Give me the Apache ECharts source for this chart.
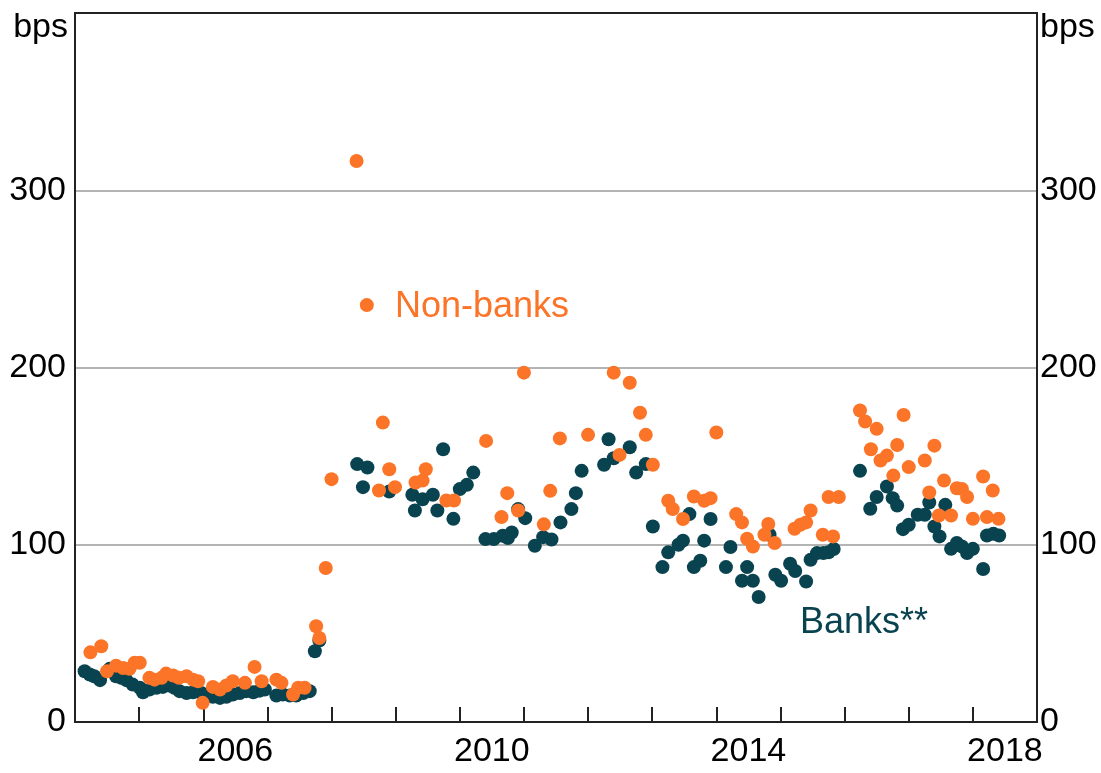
<!DOCTYPE html>
<html>
<head>
<meta charset="utf-8">
<script src="https://cdn.jsdelivr.net/npm/echarts@6/dist/echarts.min.js"></script>
<style>
  html, body { margin: 0; padding: 0; background: #fff; }
  #chart { width: 1101px; height: 773px; }
</style>
</head>
<body>
<div id="chart"></div>
<script>
// 读图得到的数据 (年份小数, bps)
var bankDates = [
  2004.15, 2004.23, 2004.30, 2004.39, 2004.54, 2004.64, 2004.72, 2004.80, 2004.90,
  2005.01, 2005.06, 2005.16, 2005.27, 2005.37, 2005.47, 2005.55, 2005.63, 2005.74, 2005.84, 2005.97,
  2006.07, 2006.15, 2006.26, 2006.36, 2006.46, 2006.57, 2006.67, 2006.78, 2006.88, 2006.96,
  2007.14, 2007.24, 2007.35, 2007.45, 2007.56, 2007.66, 2007.74, 2007.81,
  2008.40, 2008.49, 2008.56, 2008.90,
  2009.26, 2009.30, 2009.42, 2009.58, 2009.65, 2009.74, 2009.90,
  2010.00, 2010.11, 2010.21, 2010.40, 2010.53, 2010.67, 2010.75, 2010.81, 2010.91,
  2011.02, 2011.17, 2011.30, 2011.43, 2011.57, 2011.74, 2011.81, 2011.90,
  2012.25, 2012.32, 2012.40, 2012.65, 2012.75, 2012.90,
  2013.01, 2013.16, 2013.25, 2013.41, 2013.48, 2013.58, 2013.65, 2013.75, 2013.81, 2013.91,
  2014.15, 2014.22, 2014.40, 2014.48, 2014.57, 2014.66, 2014.83, 2014.92,
  2015.01, 2015.15, 2015.23, 2015.40, 2015.47, 2015.57, 2015.67, 2015.75, 2015.83,
  2016.24, 2016.40, 2016.50, 2016.66, 2016.75, 2016.82, 2016.91,
  2017.00, 2017.14, 2017.25, 2017.32, 2017.40, 2017.48, 2017.57, 2017.66, 2017.75, 2017.83, 2017.91,
  2018.00, 2018.16, 2018.22, 2018.32, 2018.41
];
var bankValues = [
  28.6, 26.8, 25.8, 23.6, 30.0, 25.8, 24.9, 23.6, 21.1,
  19.3, 16.8, 18.3, 19.3, 19.8, 20.6, 19.3, 17.4, 16.4, 16.8, 16.4,
  14.9, 14.2, 13.6, 14.2, 15.5, 16.4, 17.4, 16.8, 17.7, 18.3,
  14.9, 15.5, 14.9, 14.9, 16.4, 17.4, 39.9, 46.0,
  145.5, 132.5, 143.6, 130.0,
  128.2, 119.3, 125.7, 128.2, 119.3, 153.9, 114.6,
  131.4, 133.8, 140.7, 103.2, 103.2, 105.1, 103.8, 106.9, 120.1,
  115.0, 99.4, 104.3, 103.0, 112.6, 120.1, 129.1, 141.7,
  145.1, 159.5, 148.8, 155.0, 140.7, 145.5,
  110.3, 87.4, 95.7, 100.0, 102.3, 117.3, 87.4, 91.0, 102.3, 114.5,
  87.4, 98.7, 79.7, 87.4, 79.7, 70.5, 105.6, 83.1,
  79.7, 89.3, 85.2, 79.3, 91.5, 95.3, 95.3, 95.7, 97.6,
  141.7, 120.3, 126.9, 132.9, 126.3, 122.1, 108.8,
  111.3, 116.9, 116.9, 123.8, 110.3, 104.7, 122.5, 97.7, 101.0, 99.0, 95.3,
  97.7, 86.3, 105.2, 106.2, 105.2
];

var nonBankDates = [
  2004.24, 2004.41, 2004.50, 2004.64, 2004.75, 2004.85, 2004.93,
  2005.01, 2005.16, 2005.24, 2005.35, 2005.42, 2005.53, 2005.62, 2005.74, 2005.84, 2005.92, 2005.99,
  2006.15, 2006.26, 2006.36, 2006.46, 2006.65, 2006.80, 2006.91,
  2007.14, 2007.22, 2007.40, 2007.48, 2007.58, 2007.76, 2007.81, 2007.91,
  2008.00, 2008.39, 2008.55, 2008.74, 2008.80, 2008.90, 2008.99,
  2009.31, 2009.42, 2009.47, 2009.79, 2009.91,
  2010.41, 2010.65, 2010.74, 2010.91,
  2011.00, 2011.31, 2011.41, 2011.56,
  2012.00, 2012.40, 2012.49, 2012.65, 2012.81, 2012.90,
  2013.01, 2013.25, 2013.32, 2013.48, 2013.65, 2013.81, 2013.91,
  2014.00, 2014.31, 2014.40, 2014.48, 2014.57, 2014.75, 2014.81, 2014.91,
  2015.22, 2015.31, 2015.40, 2015.47, 2015.66, 2015.75, 2015.82, 2015.91,
  2016.24, 2016.32, 2016.41, 2016.50, 2016.56, 2016.66, 2016.76, 2016.82, 2016.92,
  2017.00, 2017.25, 2017.32, 2017.40, 2017.47, 2017.55, 2017.66, 2017.75, 2017.83, 2017.91,
  2018.00, 2018.16, 2018.22, 2018.31, 2018.40
];
var nonBankValues = [
  39.3, 42.7, 28.6, 31.8, 30.5, 30.0, 33.4,
  33.4, 24.9, 23.9, 24.9, 27.3, 26.2, 25.0, 25.8, 23.9, 23.0, 10.8,
  19.8, 18.3, 20.6, 23.0, 22.1, 31.1, 23.0,
  23.9, 22.1, 15.5, 19.3, 19.3, 54.0, 47.4, 86.9,
  137.0, 316.5, 235.2, 130.6, 168.9, 142.6, 132.5,
  135.1, 136.2, 142.6, 125.0, 125.0,
  158.6, 115.6, 129.1, 119.3,
  197.1, 111.5, 130.4, 160.0,
  162.0, 197.1, 150.7, 191.4, 174.5, 162.0,
  145.1, 124.8, 120.1, 114.5, 127.2, 124.8, 126.3,
  163.3, 117.3, 112.6, 103.4, 99.0, 105.6, 111.7, 101.0,
  109.0, 111.3, 112.6, 119.3, 105.6, 126.9, 104.7, 126.9,
  175.7, 169.5, 153.9, 165.4, 147.5, 150.3, 139.0, 156.3, 173.2,
  143.8, 147.5, 129.5, 155.9, 116.5, 136.2, 116.5, 131.9, 131.5, 126.9,
  114.6, 138.5, 115.6, 130.6, 114.6
];

var yearLabels = [2006, 2010, 2014, 2018];

var FONT = '"Liberation Sans", Arial, sans-serif';
var ORANGE = '#fb7427';
var TEAL = '#0a4350';

function pairs(xs, ys) {
  return xs.map(function (x, i) { return [x, ys[i]]; });
}

var chart = echarts.init(document.getElementById('chart'));
chart.setOption({
  animation: false,
  grid: {
    left: 75, right: 64, top: 13, bottom: 51,
    show: true, borderColor: '#222', borderWidth: 2
  },
  xAxis: [
    {
      type: 'value', min: 2004, max: 2019, interval: 1,
      axisLine: { show: true, lineStyle: { color: '#222', width: 2 } },
      axisTick: { show: true, inside: true, length: 15, lineStyle: { color: '#222', width: 2 } },
      axisLabel: { show: false },
      splitLine: { show: false }
    },
    {
      // 年份标签放在每年的中间
      type: 'value', min: 2004, max: 2019, interval: 0.5, position: 'bottom',
      axisLine: { show: false },
      axisTick: { show: false },
      splitLine: { show: false },
      axisLabel: {
        margin: 13, color: '#000', fontSize: 34, fontFamily: FONT,
        formatter: function (v) {
          var y = Math.floor(v);
          return (Math.abs(v - y - 0.5) < 1e-6 && yearLabels.indexOf(y) >= 0) ? String(y) : '';
        }
      }
    },
    {
      // 顶部边框
      type: 'value', min: 2004, max: 2019, position: 'top',
      axisLine: { show: true, lineStyle: { color: '#222', width: 2 } },
      axisTick: { show: false },
      axisLabel: { show: false },
      splitLine: { show: false }
    }
  ],
  yAxis: [
    {
      type: 'value', min: 0, max: 400, interval: 100, position: 'left',
      axisLine: { show: true, lineStyle: { color: '#222', width: 2 } },
      axisTick: { show: false },
      splitLine: { show: true, showMaxLine: false, showMinLine: false, lineStyle: { color: '#b4b4b4', width: 2 } },
      axisLabel: {
        margin: 9, color: '#000', fontSize: 34, fontFamily: FONT,
        formatter: function (v) { return v === 400 ? '' : String(v); }
      }
    },
    {
      type: 'value', min: 0, max: 400, interval: 100, position: 'right',
      axisLine: { show: true, lineStyle: { color: '#222', width: 2 } },
      axisTick: { show: false },
      splitLine: { show: false },
      axisLabel: {
        margin: 3, color: '#000', fontSize: 34, fontFamily: FONT,
        formatter: function (v) { return v === 400 ? '' : String(v); }
      }
    }
  ],
  graphic: [
    { type: 'text', x: 68, y: 28, style: { text: 'bps', fill: '#000', fontSize: 34, fontFamily: FONT, align: 'right', verticalAlign: 'middle' } },
    { type: 'text', x: 1040, y: 28, style: { text: 'bps', fill: '#000', fontSize: 34, fontFamily: FONT, align: 'left', verticalAlign: 'middle' } },
    { type: 'text', x: 395, y: 307, style: { text: 'Non-banks', fill: ORANGE, fontSize: 36, fontFamily: FONT, verticalAlign: 'middle' } },
    { type: 'text', x: 800, y: 623, style: { text: 'Banks**', fill: TEAL, fontSize: 36, fontFamily: FONT, verticalAlign: 'middle' } }
  ],
  series: [
    {
      name: 'Banks', type: 'scatter', xAxisIndex: 0, yAxisIndex: 0,
      symbol: 'circle', symbolSize: 14,
      itemStyle: { color: TEAL, opacity: 1 },
      data: pairs(bankDates, bankValues)
    },
    {
      name: 'Non-banks', type: 'scatter', xAxisIndex: 0, yAxisIndex: 0,
      symbol: 'circle', symbolSize: 14,
      itemStyle: { color: ORANGE, opacity: 1 },
      data: pairs(nonBankDates, nonBankValues)
    }
  ]
});
</script>
</body>
</html>
